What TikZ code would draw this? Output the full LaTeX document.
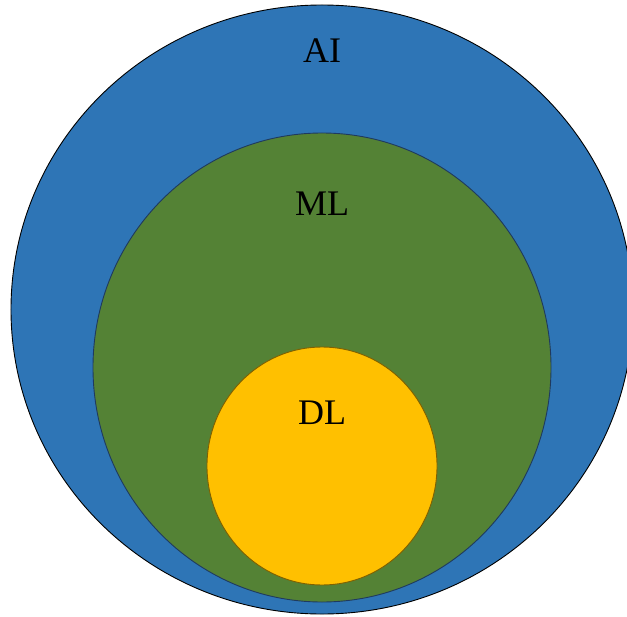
\documentclass[tikz,border=0pt]{standalone}
\usepackage{fontspec}
\setmainfont{Liberation Serif}
\usetikzlibrary{shapes.geometric}
\definecolor{aiblue}{HTML}{2E75B6}
\definecolor{mlgreen}{HTML}{548235}
\definecolor{dlyellow}{HTML}{FFC000}
\definecolor{mledge}{HTML}{1F3A5F}
\definecolor{dledge}{HTML}{7F6000}
\begin{document}
\begin{tikzpicture}[x=1bp,y=-1bp,
  region/.style={ellipse,inner sep=0pt,line width=0.9bp},
  label/.style={anchor=base,inner sep=0pt,font=\fontsize{36bp}{40bp}\selectfont}]
\useasboundingbox (0,0) rectangle (627,617);
\begin{scope}
\clip (0,0) rectangle (627,617);
\node[region,draw=black,fill=aiblue,minimum width=622bp,minimum height=609bp] (ai) at (322,309.5) {};
\end{scope}
\node[region,draw=mledge,fill=mlgreen,minimum width=458bp,minimum height=469bp] (ml) at (322,367.5) {};
\node[region,draw=dledge,fill=dlyellow,minimum width=230bp,minimum height=238bp] (dl) at (322,466) {};
\node[label] (ailabel) at (322,63) {AI};
\node[label] (mllabel) at (322,215) {ML};
\node[label] (dllabel) at (322,424) {DL};
\end{tikzpicture}
\end{document}
